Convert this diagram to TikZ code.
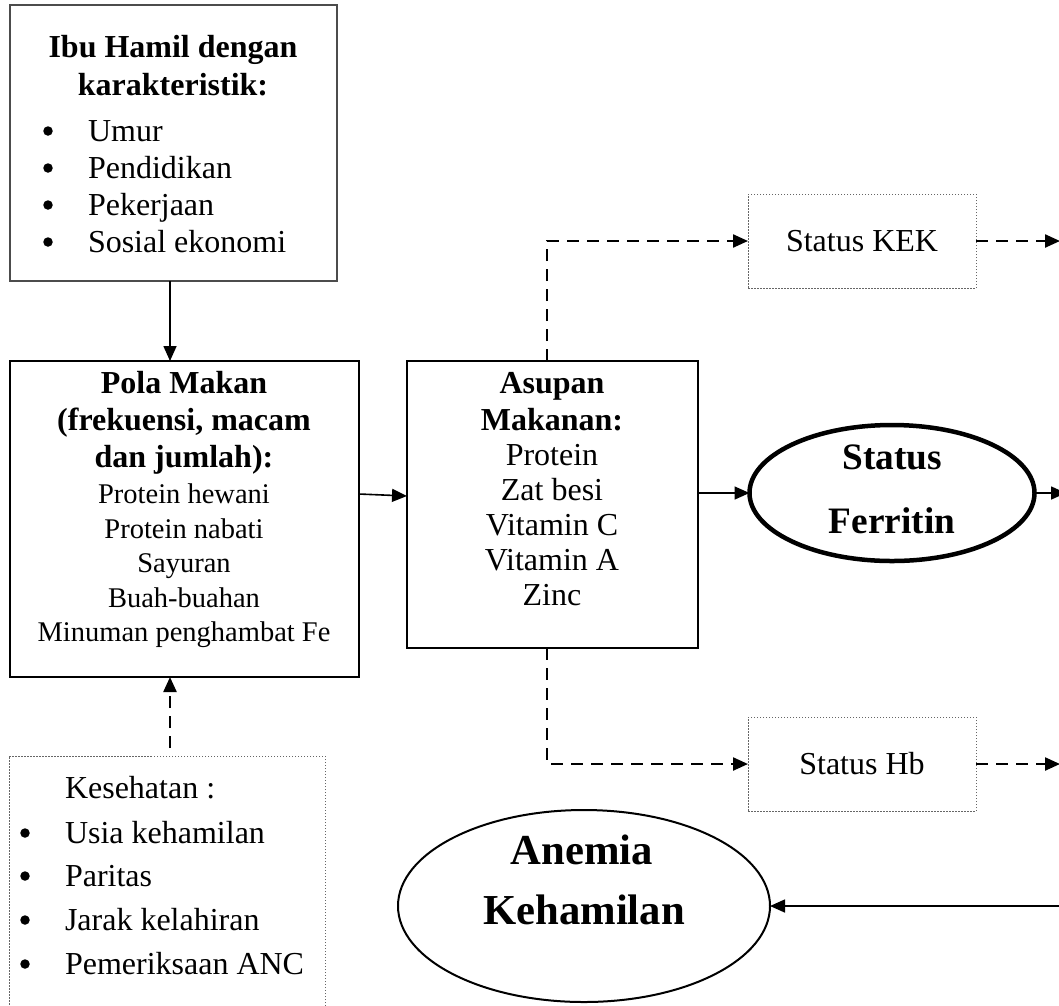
\documentclass[tikz,border=0pt]{standalone}
\usepackage{fontspec}
\setmainfont{Liberation Serif}
\usetikzlibrary{arrows.meta,shapes.geometric}
\begin{document}
\begin{tikzpicture}[x=1pt,y=-1pt,
  every node/.style={inner sep=0pt,outer sep=0pt},
  tn/.style={anchor=base,font=\fontsize{32}{37}\selectfont},
  tb/.style={anchor=base,font=\fontsize{32}{37}\selectfont\bfseries},
  ts/.style={anchor=base,font=\fontsize{28.5}{34}\selectfont},
  tl/.style={anchor=base west,font=\fontsize{32}{37}\selectfont},
  bul/.style={circle,fill=black,minimum size=9.5pt},
  thinbox/.style={draw=black!70,line width=1.2pt,anchor=north west},
  thickbox/.style={draw=black,line width=2.6pt,anchor=north west},
  dotbox/.style={draw=black!60,line width=0.9pt,dash pattern=on 1.5pt off 1.5pt,anchor=north west},
  solidarrow/.style={draw=black,line width=1.6pt,-{Triangle[length=15pt,width=13pt]}},
  dasharrow/.style={draw=black,line width=2.3pt,dash pattern=on 12pt off 8pt,-{Triangle[length=15pt,width=13pt]}},
]
\useasboundingbox (0,0) rectangle (1059,1005);
\clip (0,0) rectangle (1059,1005);

% boxes
\node[thinbox,minimum width=327pt,minimum height=276pt] (ibu) at (10,5) {};
\node[thickbox,minimum width=349pt,minimum height=316pt] (pola) at (10,361) {};
\node[thickbox,minimum width=291pt,minimum height=287pt] (asupan) at (407,361) {};
\node[dotbox,minimum width=228pt,minimum height=94pt] (kek) at (748,194) {};
\node[dotbox,minimum width=228pt,minimum height=94pt] (hb) at (748,717) {};
\node[dotbox,minimum width=316pt,minimum height=300pt] (kes) at (9,756) {};
\node[draw,ellipse,line width=4.5pt,minimum width=285pt,minimum height=136pt] (ferr) at (892,493) {};
\node[draw,ellipse,line width=2pt,minimum width=372pt,minimum height=192pt] (anemia) at (584,906) {};

% Ibu Hamil text
\node[tb] (ibu-h1) at (173,57) {Ibu Hamil dengan};
\node[tb] (ibu-h2) at (173,95) {karakteristik:};
\foreach \y/\t [count=\i] in {141/Umur,178/Pendidikan,215/Pekerjaan,252/Sosial ekonomi}{
  \node[bul] (ibu-b\i) at (48,\y-10) {};
  \node[tl] (ibu-t\i) at (88,\y) {\t};
}

% Pola Makan text
\node[tb] (pola-h1) at (184,393) {Pola Makan};
\node[tb] (pola-h2) at (184,430) {(frekuensi, macam};
\node[tb] (pola-h3) at (184,467) {dan jumlah):};
\foreach \y/\t [count=\i] in {503/Protein hewani,538/Protein nabati,572/Sayuran,607/Buah-buahan,641/Minuman penghambat Fe}{
  \node[ts] (pola-t\i) at (184,\y) {\t};
}

% Asupan text
\node[tb] (as-h1) at (552,393) {Asupan};
\node[tb] (as-h2) at (552,430) {Makanan:};
\foreach \y/\t [count=\i] in {465/Protein,500/Zat besi,535/Vitamin C,570/Vitamin A,605/Zinc}{
  \node[tn] (as-t\i) at (552,\y) {\t};
}

% status boxes text
\node[tn,anchor=center] (kek-t) at (kek.center) {Status KEK};
\node[tn,anchor=center] (hb-t) at (hb.center) {Status Hb};

% Ferritin text
\node[anchor=base,font=\fontsize{37.3}{45}\selectfont\bfseries] (ferr-t1) at (892,469) {Status};
\node[anchor=base,font=\fontsize{37.3}{45}\selectfont\bfseries] (ferr-t2) at (892,533) {Ferritin};

% Anemia text
\node[anchor=base,font=\fontsize{42.7}{60}\selectfont\bfseries] (an-t1) at (582,864) {Anemia};
\node[anchor=base,font=\fontsize{42.7}{60}\selectfont\bfseries] (an-t2) at (584,924) {Kehamilan};

% Kesehatan text
\node[tl] (kes-h) at (65,798) {Kesehatan :};
\foreach \y/\t [count=\i] in {843/Usia kehamilan,886/Paritas,930/Jarak kelahiran,974/Pemeriksaan ANC}{
  \node[bul] (kes-b\i) at (25,\y-10) {};
  \node[tl] (kes-t\i) at (65,\y) {\t};
}

% connectors
\coordinate (colx) at (170,0);
\coordinate (kesTop) at (170,748);
\coordinate (ferrOut) at (1066,493);
\coordinate (kekOut) at (1060,241);
\coordinate (hbOut) at (1060,764);
\coordinate (anIn) at (1080,906);
\coordinate (asTop) at (547,361);
\coordinate (asBot) at (547,648);
\coordinate (polaOut) at (359,494);
\coordinate (asIn) at (407,496);

\draw[solidarrow] (ibu.south -| colx) -- (pola.north -| colx);
\draw[dasharrow] (kesTop) -- (pola.south -| colx);
\draw[solidarrow] (polaOut) -- (asIn);
\draw[solidarrow] (asupan.east |- ferr.west) -- (ferr.west);
\draw[solidarrow] (ferr.east) -- (ferrOut);
\draw[dasharrow] (asTop) |- (kek.west);
\draw[dasharrow] (asBot) |- (hb.west);
\draw[dasharrow] (kek.east) -- (kekOut);
\draw[dasharrow] (hb.east) -- (hbOut);
\draw[solidarrow] (anIn) -- (anemia.east);
\end{tikzpicture}
\end{document}
